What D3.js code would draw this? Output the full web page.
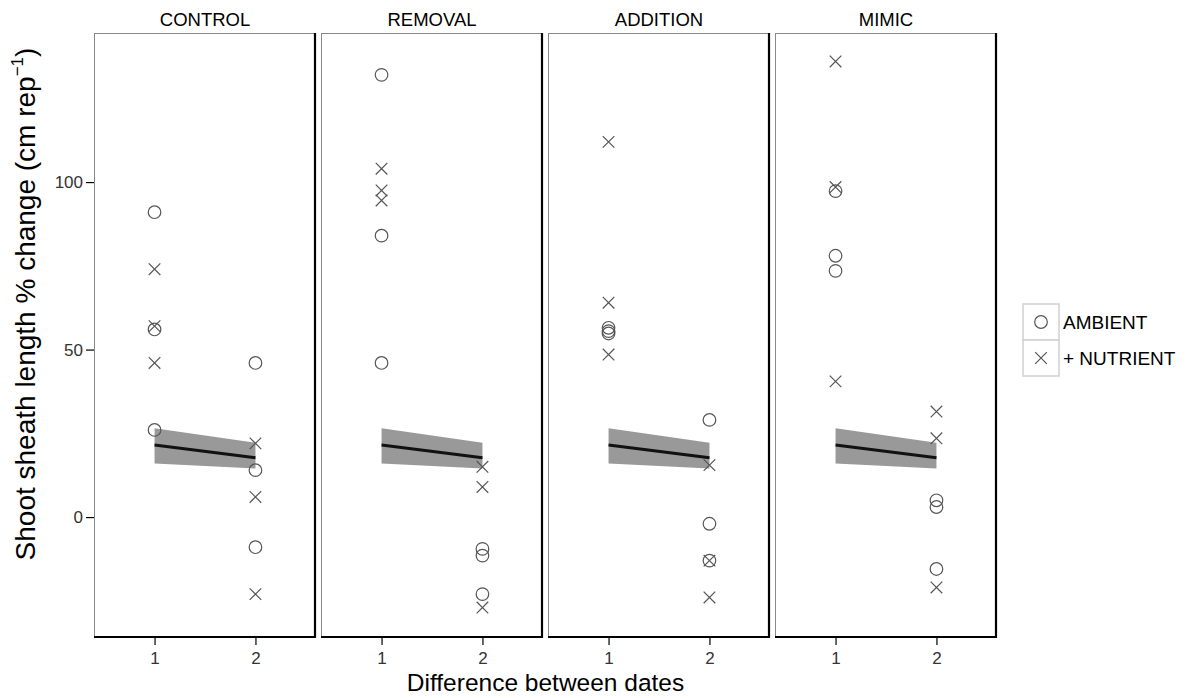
<!DOCTYPE html>
<html>
<head>
<meta charset="utf-8">
<script src="https://cdn.jsdelivr.net/npm/d3@7"></script>
<style>
  body { margin: 0; background: #fff; }
  text { font-family: "Liberation Sans", Arial, sans-serif; }
</style>
</head>
<body>
<div id="chart"></div>
<script>
// facet names and the two dates on the x axis
const panels = ["CONTROL", "REMOVAL", "ADDITION", "MIMIC"];
const dates = [1, 2];

// values read per panel (one inner array per panel)
const ambientDate1 = [[91, 56, 26], [132, 84, 46], [56.5, 55.5, 54.8], [97.3, 78, 73.5]];
const ambientDate2 = [[46, 14, -9], [-9.5, -11.5, -23], [29, -2, -13], [5, 3, -15.5]];
const nutrientDate1 = [[74, 57, 46], [104, 97.5, 94.5], [112, 64, 48.5], [136, 98.5, 40.5]];
const nutrientDate2 = [[22, 6, -23], [15, 9, -27], [15.5, -13, -24], [31.5, 23.5, -21]];

// fitted line and its confidence band (same in every panel)
const fitValues = [21.5, 17.7];
const fitLower = [16.0, 14.5];
const fitUpper = [26.5, 22.2];

const yTicks = [0, 50, 100];
const legendLabels = ["AMBIENT", "+ NUTRIENT"];

const width = 1189, height = 698;
const plotTop = 33, plotBottom = 637;
const panelLeft = 94, panelW = 222, gap = 5;

const svg = d3.select("#chart").append("svg")
  .attr("width", width).attr("height", height);

const y = d3.scaleLinear().domain([-35.8, 144.5]).range([plotBottom, plotTop]);
const x = d3.scaleLinear().domain([0.4, 2.6]).range([0, panelW]);

// y axis on the left of the first panel
const yAxis = svg.append("g")
  .attr("transform", `translate(${panelLeft},0)`)
  .call(d3.axisLeft(y).tickValues(yTicks).tickSize(8).tickPadding(3));
yAxis.select(".domain").remove();
yAxis.selectAll("line").attr("stroke", "#000").attr("stroke-width", 1.2);
yAxis.selectAll("text").style("font-size", "17px").attr("fill", "#333");

// y title with superscript
const yt = svg.append("text")
  .attr("transform", `translate(35,304) rotate(-90)`)
  .attr("text-anchor", "middle")
  .style("font-size", "28px")
  .attr("fill", "#000");
yt.append("tspan").text("Shoot sheath length % change (cm rep");
yt.append("tspan").attr("dy", -12).style("font-size", "17px").text("−1");
yt.append("tspan").attr("dy", 12).text(")");

const crossPath = function (s) {
  return `M${-s},${-s}L${s},${s}M${-s},${s}L${s},${-s}`;
};

panels.forEach(function (name, i) {
  const left = panelLeft + i * (panelW + gap);
  const g = svg.append("g").attr("transform", `translate(${left},0)`);

  // panel frame: thin grey box, heavy black right and bottom edges
  g.append("rect")
    .attr("x", 0.5).attr("y", plotTop + 0.5)
    .attr("width", panelW - 1).attr("height", plotBottom - plotTop)
    .attr("fill", "#fff").attr("stroke", "#888").attr("stroke-width", 1);
  g.append("path")
    .attr("d", `M${panelW - 1},${plotTop}V${plotBottom}H0`)
    .attr("fill", "none").attr("stroke", "#000").attr("stroke-width", 2.2);

  // title
  g.append("text")
    .attr("x", panelW / 2).attr("y", 26)
    .attr("text-anchor", "middle")
    .style("font-size", "18.5px")
    .text(name);

  // confidence band + fitted line
  const band = dates.map((d, k) => ({ d: d, lo: fitLower[k], hi: fitUpper[k], v: fitValues[k] }));
  g.append("path")
    .datum(band)
    .attr("d", d3.area().x(p => x(p.d)).y0(p => y(p.lo)).y1(p => y(p.hi)))
    .attr("fill", "#999");
  g.append("path")
    .datum(band)
    .attr("d", d3.line().x(p => x(p.d)).y(p => y(p.v)))
    .attr("fill", "none").attr("stroke", "#111").attr("stroke-width", 3);

  // points
  const amb = ambientDate1[i].map(v => ({ d: 1, v: v }))
    .concat(ambientDate2[i].map(v => ({ d: 2, v: v })));
  const nut = nutrientDate1[i].map(v => ({ d: 1, v: v }))
    .concat(nutrientDate2[i].map(v => ({ d: 2, v: v })));

  g.selectAll("circle.amb").data(amb).join("circle")
    .attr("class", "amb")
    .attr("cx", p => x(p.d)).attr("cy", p => y(p.v)).attr("r", 6.3)
    .attr("fill", "none").attr("stroke", "#555").attr("stroke-width", 1.2);

  g.selectAll("path.nut").data(nut).join("path")
    .attr("class", "nut")
    .attr("transform", p => `translate(${x(p.d)},${y(p.v)})`)
    .attr("d", crossPath(5.8))
    .attr("fill", "none").attr("stroke", "#555").attr("stroke-width", 1.2);

  // x axis under each panel
  const xAxis = g.append("g")
    .attr("transform", `translate(0,${plotBottom})`)
    .call(d3.axisBottom(x).tickValues(dates).tickFormat(d3.format("d")).tickSize(8).tickPadding(7));
  xAxis.select(".domain").remove();
  xAxis.selectAll("line").attr("stroke", "#000").attr("stroke-width", 1.2);
  xAxis.selectAll("text").style("font-size", "17px").attr("fill", "#333");
});

// x title
svg.append("text")
  .attr("x", panelLeft + (4 * panelW + 3 * gap) / 2).attr("y", 691)
  .attr("text-anchor", "middle")
  .style("font-size", "24.5px")
  .text("Difference between dates");

// legend
const key = 36, lx = 1023, ly = 304;
const legend = svg.append("g").attr("transform", `translate(${lx},${ly})`);
legendLabels.forEach(function (lab, k) {
  const row = legend.append("g").attr("transform", `translate(0,${k * key})`);
  row.append("rect")
    .attr("width", key).attr("height", key)
    .attr("fill", "#fff").attr("stroke", "#d0d0d0").attr("stroke-width", 1.5);
  if (k === 0) {
    row.append("circle").attr("cx", key / 2).attr("cy", key / 2).attr("r", 6.3)
      .attr("fill", "none").attr("stroke", "#555").attr("stroke-width", 1.2);
  } else {
    row.append("path").attr("transform", `translate(${key / 2},${key / 2})`)
      .attr("d", crossPath(5.8))
      .attr("fill", "none").attr("stroke", "#555").attr("stroke-width", 1.2);
  }
  row.append("text")
    .attr("x", key + 4).attr("y", key / 2 + 7)
    .style("font-size", "19px")
    .text(lab);
});
</script>
</body>
</html>
